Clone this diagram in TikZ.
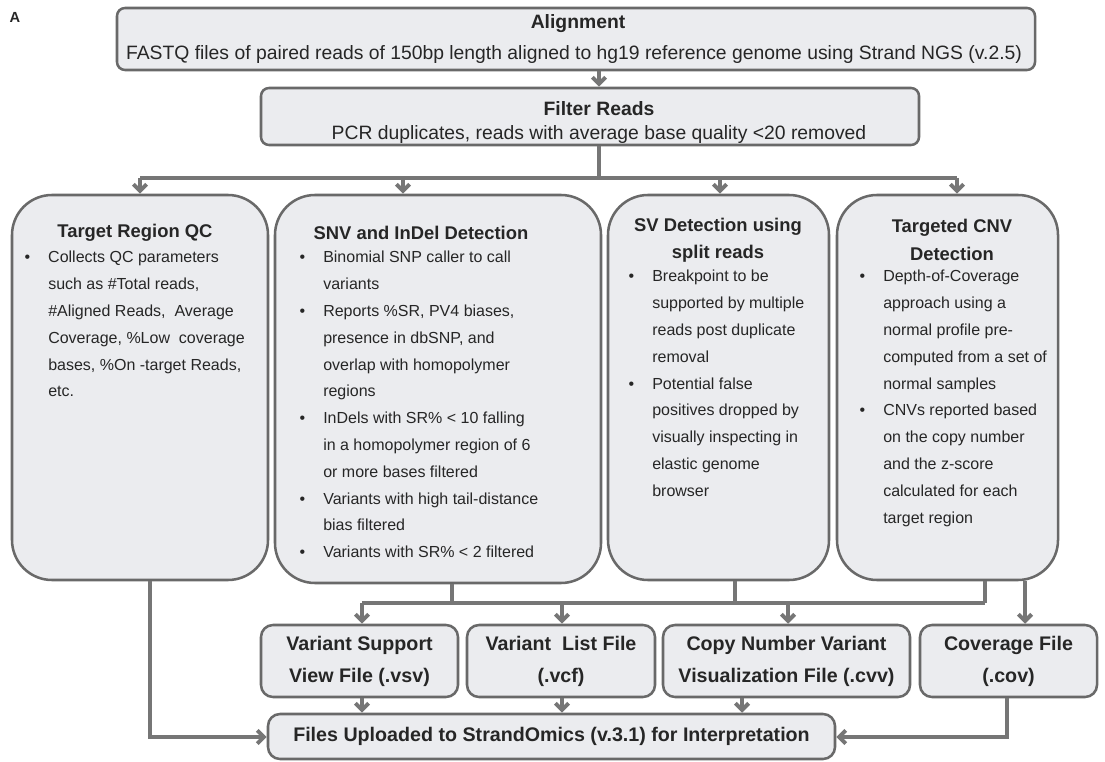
\documentclass[tikz,border=0pt]{standalone}
\usepackage{fontspec}
\setmainfont{Liberation Sans}
\usetikzlibrary{arrows.meta}
\definecolor{boxfill}{RGB}{235,236,239}
\definecolor{boxline}{RGB}{105,105,105}
\definecolor{connc}{RGB}{118,118,118}
\definecolor{txt}{RGB}{38,38,38}
\newcommand\bul{\llap{\textbullet\hspace{13.5pt}}}
\begin{document}
\begin{tikzpicture}[x=0.75pt,y=-0.75pt,
  box/.style={draw=boxline, fill=boxfill, line width=1.9pt, rounded corners=6pt, inner sep=0pt, align=center, text=txt},
  bigbox/.style={box, rounded corners=30pt},
  smallbox/.style={box, rounded corners=9pt, font=\bfseries\fontsize{14.75}{24}\selectfont},
  conn/.style={draw=connc, line width=3pt},
  arr/.style={conn, -{Straight Barb[length=5pt,width=10pt]}},
  ttl/.style={font=\bfseries\fontsize{13.8}{20.5}\selectfont, text=txt, align=center, inner sep=0pt},
  hdr/.style={font=\bfseries\fontsize{14.5}{20}\selectfont, text=txt, inner sep=0pt},
  hbody/.style={font=\fontsize{14.5}{20}\selectfont, text=txt, inner sep=0pt},
  body/.style={font=\fontsize{12}{20.1}\selectfont, text=txt, align=left, inner sep=0pt, anchor=north west},
]
\useasboundingbox (0,0) rectangle (1105,762);
\node[font=\bfseries\fontsize{11}{13}\selectfont, text=txt] (lblA) at (15,17) {A};

% top boxes
\node[box, minimum width=918*0.75pt, minimum height=62*0.75pt] (align) at (576,39) {};
\node[hdr] (alignT) at (578,24) {Alignment};
\node[hbody] (alignB) at (574,55) {FASTQ files of paired reads of 150bp length aligned to hg19 reference genome using Strand NGS (v.2.5)};

\node[box, minimum width=658*0.75pt, minimum height=57*0.75pt] (filter) at (590,116.5) {};
\node[hdr] (filterT) at (599,109) {Filter Reads};
\node[hbody] (filterB) at (599,135) {PCR duplicates, reads with average base quality <20 removed};

% big boxes
\node[bigbox, minimum width=256*0.75pt, minimum height=385*0.75pt] (b1) at (140,387.5) {};
\node[bigbox, minimum width=326*0.75pt, minimum height=388*0.75pt] (b2) at (438,389) {};
\node[bigbox, minimum width=221*0.75pt, minimum height=385*0.75pt] (b3) at (718.5,387.5) {};
\node[bigbox, minimum width=221*0.75pt, minimum height=385*0.75pt] (b4) at (947.5,387.5) {};

\node[ttl] (t1) at (135,233) {Target Region QC};
\node[ttl] (t2) at (421,233) {SNV and InDel Detection};
\node[ttl] (t3) at (718,240) {SV Detection using\\split reads};
\node[ttl] (t4) at (952,240) {Targeted CNV\\Detection};

\node[body] (x1) at (48,251) {\bul Collects QC parameters\\such as \#Total reads,\\\#Aligned Reads,\ \ Average\\Coverage, \%Low\ \ coverage\\bases, \%On -target Reads,\\etc.};
\node[body] (x2) at (323,251) {\bul Binomial SNP caller to call\\variants\\\bul Reports \%SR, PV4 biases,\\presence in dbSNP, and\\overlap with homopolymer\\regions\\\bul InDels with SR\% < 10 falling\\in a homopolymer region of 6\\or more bases filtered\\\bul Variants with high tail-distance\\bias filtered\\\bul Variants with SR\% < 2 filtered};
\node[body] (x3) at (652,270) {\bul Breakpoint to be\\supported by multiple\\reads post duplicate\\removal\\\bul Potential false\\positives dropped by\\visually inspecting in\\elastic genome\\browser};
\node[body] (x4) at (883,270) {\bul Depth-of-Coverage\\approach using a\\normal profile pre-\\computed from a set of\\normal samples\\\bul CNVs reported based\\on the copy number\\and the z-score\\calculated for each\\target region};

% small boxes
\node[smallbox, minimum width=197*0.75pt, minimum height=72*0.75pt] (v1) at (359.5,661) {Variant Support\\View File (.vsv)};
\node[smallbox, minimum width=188*0.75pt, minimum height=72*0.75pt] (v2) at (561,661) {Variant\ \ List File\\(.vcf)};
\node[smallbox, minimum width=247*0.75pt, minimum height=72*0.75pt] (v3) at (786.5,661) {Copy Number Variant\\Visualization File (.cvv)};
\node[smallbox, minimum width=177*0.75pt, minimum height=72*0.75pt] (v4) at (1008.5,661) {Coverage File\\(.cov)};
\node[smallbox, minimum width=567*0.75pt, minimum height=45*0.75pt] (files) at (551.5,736.5) {Files Uploaded to StrandOmics (v.3.1) for Interpretation};

% connectors top
\coordinate (a0) at (599,0);
\draw[arr] (align.south -| a0) -- (filter.north -| a0);
\coordinate (j0) at (599,178);
\coordinate (d1) at (140,178);
\coordinate (d2) at (403,178);
\coordinate (d3) at (720,178);
\coordinate (d4) at (957,178);
\draw[conn] (filter.south -| j0) -- (j0);
\draw[conn] (d1) -- (d4);
\draw[arr] (d1) -- (d1 |- b1.north);
\draw[arr] (d2) -- (d2 |- b2.north);
\draw[arr] (d3) -- (d3 |- b3.north);
\draw[arr] (d4) -- (d4 |- b4.north);

% connectors bottom
\coordinate (e1) at (150,737);
\draw[arr] (b1.south -| e1) -- (e1) -- (files.west |- e1);
\coordinate (k2) at (452,603);
\coordinate (k3) at (735,603);
\coordinate (k4) at (985,603);
\coordinate (m1) at (362,603);
\coordinate (m2) at (562,603);
\coordinate (m3) at (788,603);
\draw[conn] (b2.south -| k2) -- (k2);
\draw[conn] (b3.south -| k3) -- (k3);
\draw[conn] (b4.south -| k4) -- (k4);
\draw[conn] (m1) -- (m3);
\draw[conn, line width=3.6pt] (m2) -- (k4);
\draw[arr] (m1) -- (v1.north -| m1);
\draw[arr] (m2) -- (v2.north -| m2);
\draw[arr] (m3) -- (v3.north -| m3);
\coordinate (c4) at (1025,0);
\draw[arr] (b4.south -| c4) -- (v4.north -| c4);
\coordinate (g1) at (362,0);
\coordinate (g2) at (562,0);
\coordinate (g3) at (742,0);
\draw[arr] (v1.south -| g1) -- (files.north -| g1);
\draw[arr] (v2.south -| g2) -- (files.north -| g2);
\draw[arr] (v3.south -| g3) -- (files.north -| g3);
\coordinate (e4) at (1007,737);
\draw[arr] (v4.south -| e4) -- (e4) -- (files.east |- e4);
\end{tikzpicture}
\end{document}
